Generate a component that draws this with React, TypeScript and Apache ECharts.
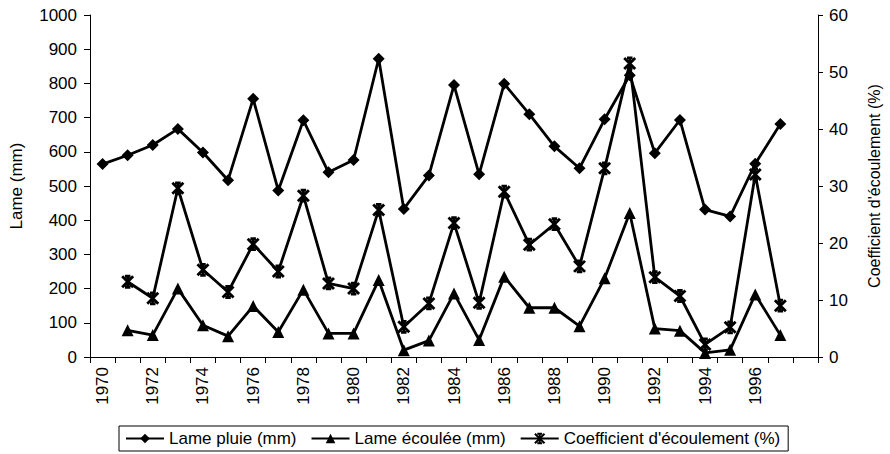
import React, { useEffect, useRef } from "react";
import * as echarts from "echarts";

const years: string[] = [
  "1970", "1971", "1972", "1973", "1974", "1975", "1976", "1977", "1978", "1979",
  "1980", "1981", "1982", "1983", "1984", "1985", "1986", "1987", "1988", "1989",
  "1990", "1991", "1992", "1993", "1994", "1995", "1996", "1997", "",
];

const lamePluie: (number | null)[] = [
  564, 590, 620, 667, 598, 517, 755, 487, 692, 540,
  576, 872, 433, 531, 795, 534, 799, 710, 616, 552,
  695, 824, 596, 693, 431, 411, 565, 681, null,
];

const lameEcoulee: (number | null)[] = [
  null, 78, 64, 200, 93, 61, 149, 73, 197, 69,
  69, 225, 20, 48, 186, 50, 235, 144, 144, 90,
  230, 421, 83, 77, 12, 21, 183, 64, null,
];

const coefficient: (number | null)[] = [
  null, 13.2, 10.3, 29.6, 15.3, 11.4, 19.8, 15.0, 28.3, 12.9,
  12.0, 25.8, 5.3, 9.4, 23.5, 9.5, 29.0, 19.7, 23.3, 15.9,
  33.1, 51.5, 14.0, 10.7, 2.2, 5.2, 32.0, 9.0, null,
];

const FONT = "'Liberation Sans', Arial, sans-serif";
const starSymbol = "path://M0,0L10,10M10,0L0,10M5,0L5,10M2.5,0L7.5,0M2.5,10L7.5,10";

export default function App() {
  const ref = useRef<HTMLDivElement>(null);
  useEffect(() => {
    if (!ref.current) return;
    const chart = echarts.init(ref.current, null, { renderer: "svg" });
    const axisLine = { show: true, lineStyle: { color: "#000", width: 1 } };
    const axisLabel = { color: "#000", fontSize: 17, fontFamily: FONT };
    chart.setOption({
      animation: false,
      backgroundColor: "#fff",
      textStyle: { fontFamily: FONT, color: "#000" },
      grid: { left: 84, right: 63, top: 15, bottom: 97, containLabel: false },
      legend: {
        left: 119,
        top: 426,
        itemWidth: 38,
        itemHeight: 12,
        itemGap: 14,
        padding: [4, 8, 4, 6],
        borderColor: "#000",
        borderWidth: 1,
        textStyle: { color: "#000", fontSize: 17, fontFamily: FONT },
        data: [
          "Lame pluie (mm)",
          "Lame écoulée (mm)",
          "Coefficient d'écoulement (%)",
        ],
      },
      xAxis: {
        type: "category",
        data: years,
        boundaryGap: true,
        axisLine,
        axisTick: { show: true, interval: 0, length: 6, inside: false, lineStyle: { color: "#000" } },
        axisLabel: { ...axisLabel, rotate: 90, interval: 1, margin: 10 },
        splitLine: { show: false },
      },
      yAxis: [
        {
          type: "value",
          min: 0,
          max: 1000,
          interval: 100,
          name: "Lame (mm)",
          nameLocation: "middle",
          nameGap: 65,
          nameRotate: 90,
          nameTextStyle: { color: "#000", fontSize: 17, fontFamily: FONT },
          axisLine,
          axisTick: { show: true, length: 6, lineStyle: { color: "#000" } },
          axisLabel: { ...axisLabel, margin: 13, formatter: (v: number) => String(v) },
          splitLine: { show: false },
        },
        {
          type: "value",
          position: "right",
          min: 0,
          max: 60,
          interval: 10,
          name: "Coefficient d'écoulement (%)",
          nameLocation: "middle",
          nameGap: 48,
          nameRotate: 90,
          nameTextStyle: { color: "#000", fontSize: 16, fontFamily: FONT },
          axisLine,
          axisTick: { show: true, length: 5, lineStyle: { color: "#000" } },
          axisLabel: { ...axisLabel, margin: 11 },
          splitLine: { show: false },
        },
      ],
      series: [
        {
          name: "Lame pluie (mm)",
          type: "line",
          yAxisIndex: 0,
          data: lamePluie,
          symbol: "diamond",
          symbolSize: 12,
          showAllSymbol: true,
          lineStyle: { color: "#000", width: 2.8 },
          itemStyle: { color: "#000" },
        },
        {
          name: "Lame écoulée (mm)",
          type: "line",
          yAxisIndex: 0,
          data: lameEcoulee,
          symbol: "triangle",
          symbolSize: 12,
          showAllSymbol: true,
          lineStyle: { color: "#000", width: 2.8 },
          itemStyle: { color: "#000" },
        },
        {
          name: "Coefficient d'écoulement (%)",
          type: "line",
          yAxisIndex: 1,
          data: coefficient,
          symbol: starSymbol,
          symbolSize: 11,
          showAllSymbol: true,
          lineStyle: { color: "#000", width: 2.8 },
          itemStyle: { color: "none", borderColor: "#000", borderWidth: 2.8 },
        },
      ],
    });
    return () => chart.dispose();
  }, []);
  return (
    <div
      ref={ref}
      style={{ position: "absolute", left: 0, top: 0, width: 890, height: 454 }}
    />
  );
}
